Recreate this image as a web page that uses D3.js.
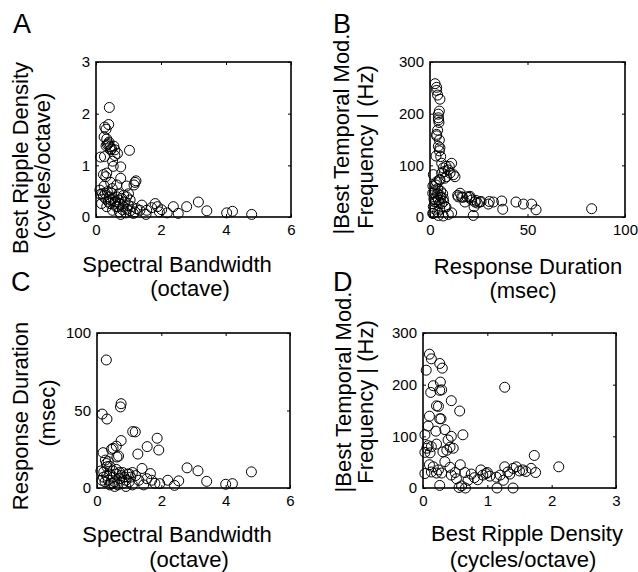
<!DOCTYPE html>
<html>
<head>
<meta charset="utf-8">
<script src="https://cdn.jsdelivr.net/npm/d3@7"></script>
<style>
  body { margin: 0; background: #fff; }
  svg { font-family: "Liberation Sans", Arial, sans-serif; }
</style>
</head>
<body>
<svg id="chart"></svg>
<script>
// [spectral bandwidth (octave), best ripple density (cycles/octave)]
let rippleVsBandwidth = [
  [0.41,2.12],[0.39,1.79],[0.27,1.74],[0.31,1.70],[0.25,1.55],[0.33,1.51],[0.38,1.42],[0.31,1.38],
  [0.43,1.36],[0.48,1.32],[0.55,1.37],[0.58,1.30],[0.66,1.23],[0.58,1.19],[1.03,1.29],[0.14,1.16],
  [0.26,1.17],[0.51,1.08],[0.53,0.98],[0.76,0.97],[0.23,0.82],[0.33,0.85],[0.30,0.78],[0.76,0.75],
  [0.45,0.67],[0.64,0.62],[0.94,0.60],[1.20,0.67],[1.23,0.70],[1.17,0.62],[0.12,0.52],[0.14,0.44],
  [0.23,0.40],[0.28,0.46],[0.35,0.49],[0.41,0.39],[0.48,0.46],[0.53,0.36],[0.58,0.29],[0.64,0.39],
  [0.69,0.33],[0.74,0.25],[0.79,0.36],[0.84,0.20],[0.89,0.29],[0.94,0.39],[0.99,0.23],[1.05,0.33],
  [1.10,0.20],[0.17,0.26],[0.33,0.20],[0.43,0.26],[0.51,0.13],[0.62,0.20],[0.72,0.10],[0.76,0.05],
  [0.82,0.14],[0.92,0.08],[1.05,0.12],[1.15,0.07],[1.25,0.16],[1.20,0.10],[1.41,0.23],[1.35,0.13],
  [1.54,0.05],[1.56,0.13],[1.71,0.18],[1.82,0.26],[1.89,0.20],[1.95,0.10],[2.02,0.14],[2.19,0.08],
  [2.38,0.20],[2.53,0.07],[2.79,0.20],[3.15,0.29],[3.41,0.12],[4.02,0.08],[4.20,0.11],[4.79,0.05],
  [0.35,1.40],[0.40,1.45],[0.45,1.30],[0.20,0.45],[0.30,0.35],[0.38,0.30],[0.45,0.33],[0.55,0.25],
  [0.60,0.30],[0.68,0.20],[0.25,0.60],[0.70,0.45],[0.85,0.42],[1.00,0.45],[0.95,0.15],[0.50,0.55]
];

// [response duration (msec), |best temporal mod. frequency| (Hz)]
let tmfVsDuration = [
  [2.6,258],[3.4,251],[3.4,245],[3.9,236],[5.1,228],[4.8,205],[4.3,199],[4.3,192],[4.4,188],[4.6,183],
  [3.9,168],[3.4,160],[3.4,157],[4.8,149],[4.3,137],[5.1,134],[4.8,128],[5.5,117],[3.1,118],[6.0,104],
  [11.1,104],[6.8,95],[8.2,98],[9.9,98],[9.4,91],[10.3,85],[12.0,82],[12.8,78],[8.5,78],[7.4,88],
  [5.1,72],[1.7,82],[4.8,72],[3.4,68],[2.6,52],[1.4,46],[2.2,47],[3.9,45],[3.4,39],[5.1,42],
  [5.6,38],[4.3,33],[2.6,29],[6.0,26],[6.8,36],[4.8,26],[7.7,20],[8.2,19],[1.7,20],[3.9,10],
  [1.4,7],[1.7,7],[4.3,3],[6.8,2],[9.4,5],[11.1,8],[14.2,42],[15.4,46],[14.5,39],[16.2,39],
  [16.8,38],[17.9,29],[18.8,39],[20.2,38],[20.5,40],[21.4,33],[23.1,29],[23.6,32],[24.3,27],[25.6,29],
  [26.2,30],[22.6,20],[22.2,3],[29.9,25],[30.4,30],[32.5,29],[36.8,31],[37.3,15],[44.1,29],[47.9,25],
  [52.1,25],[54.4,14],[82.9,16],
  [2.0,35],[3.0,30],[4.0,55],[5.5,50],[6.5,45],[7.0,30],[2.5,15],[5.0,15],[3.0,62],[6.0,85],[7.5,75],[1.5,60]
];

// [spectral bandwidth (octave), response duration (msec)]
let durationVsBandwidth = [
  [0.29,82.6],[0.16,47.7],[0.31,44.5],[0.75,54.4],[0.73,52.3],[1.11,36.4],[1.19,36.2],[0.75,30.6],
  [1.87,32.1],[1.56,26.7],[1.92,24.5],[1.27,21.9],[1.40,12.6],[0.19,22.8],[0.45,25.0],[0.50,25.6],
  [0.60,27.0],[0.67,20.6],[0.62,20.0],[0.26,18.0],[0.29,15.8],[0.31,13.7],[0.35,17.0],[0.40,14.0],
  [0.21,10.4],[0.15,5.0],[2.80,13.0],[3.14,11.1],[3.41,4.3],[4.80,10.4],[4.00,2.4],[4.21,2.8],
  [2.20,5.0],[2.41,1.7],[2.54,4.6],[1.95,2.8],[1.70,5.0],[1.66,9.3],[1.80,3.0],[1.20,8.0],[1.30,5.0],
  [0.30,8],[0.35,5],[0.40,9],[0.45,3],[0.50,7],[0.55,4],[0.60,9],[0.65,2],[0.70,6],[0.75,8],
  [0.80,3],[0.85,7],[0.90,5],[0.95,9],[1.00,4],[1.05,7],[1.10,2],[0.25,4],[0.20,7],[0.50,11],
  [0.60,12],[0.70,10],[0.80,10],[1.00,9],[1.10,10],[0.40,2],[0.55,1],[0.90,1],[1.45,2],[1.55,6],
  [0.12,11],[0.50,3]
];

// [best ripple density (cycles/octave), |best temporal mod. frequency| (Hz)]
let tmfVsRipple = [
  [0.10,259],[0.13,250],[0.05,228],[0.26,241],[0.30,232],[0.16,198],[0.12,185],[0.27,205],[0.29,190],
  [0.26,189],[0.44,169],[0.57,149],[0.21,159],[0.24,158],[0.10,139],[0.26,134],[0.28,134],[0.34,113],
  [0.08,120],[0.03,103],[0.20,110],[0.62,103],[0.44,100],[0.39,93],[0.08,82],[0.06,77],[0.13,80],
  [0.21,85],[0.42,79],[0.47,77],[0.37,73],[0.03,69],[0.11,68],[0.31,70],[1.73,63],[1.27,195],
  [0.10,45],[0.16,41],[0.24,35],[0.29,29],[0.21,29],[0.13,31],[0.42,40],[0.34,51],[0.58,45],
  [0.03,28],[0.26,5],[0.44,25],[0.52,18],[0.60,4],[0.66,0],[0.56,1],[0.75,27],[0.80,20],
  [0.85,16],[0.93,25],[0.98,28],[1.04,23],[1.14,21],[1.15,0],[1.40,0],[1.27,41],[1.32,31],
  [1.40,38],[1.45,41],[1.55,35],[1.68,38],[1.75,30],[2.11,41],
  [0.70,15],[0.90,35],[1.00,30],[1.20,25],[1.25,15],[1.35,27],[1.50,33],[1.60,32],[0.65,30],[0.50,30]
];

let bandwidthTicks = [0, 2, 4, 6];
let rippleTicks = [0, 1, 2, 3];
let durationTicksX = [0, 50, 100];
let durationTicksY = [0, 50, 100];
let tmfTicks = [0, 100, 200, 300];

let width = 638;
let height = 572;

let svg = d3.select("#chart").attr("width", width).attr("height", height);
svg.append("rect").attr("width", width).attr("height", height).attr("fill", "#fff");

let panels = [
  {
    letter: "A", letterPos: [13, 33], box: [96, 62, 291, 217],
    data: rippleVsBandwidth, xDomain: [0, 6], yDomain: [0, 3],
    xTicks: bandwidthTicks, yTicks: rippleTicks,
    xLabel: [["Spectral Bandwidth", 177, 272], ["(octave)", 190, 296]],
    yLabel: [["Best Ripple Density", 28, 158], ["(cycles/octave)", 50, 166]]
  },
  {
    letter: "B", letterPos: [333, 33], box: [430, 62, 625, 217],
    data: tmfVsDuration, xDomain: [0, 100], yDomain: [0, 300],
    xTicks: durationTicksX, yTicks: tmfTicks,
    xLabel: [["Response Duration", 528, 274], ["(msec)", 523, 298]],
    yLabel: [["|Best Temporal Mod.", 349, 134], ["Frequency | (Hz)", 373, 147]]
  },
  {
    letter: "C", letterPos: [11, 291], box: [97, 333, 290, 488],
    data: durationVsBandwidth, xDomain: [0, 6], yDomain: [0, 100],
    xTicks: bandwidthTicks, yTicks: durationTicksY,
    xLabel: [["Spectral Bandwidth", 177, 542], ["(octave)", 189, 567]],
    yLabel: [["Response Duration", 28, 416], ["(msec)", 55, 413]]
  },
  {
    letter: "D", letterPos: [333, 291], box: [423, 333, 616, 488],
    data: tmfVsRipple, xDomain: [0, 3], yDomain: [0, 300],
    xTicks: rippleTicks, yTicks: tmfTicks,
    xLabel: [["Best Ripple Density", 527, 541], ["(cycles/octave)", 523, 567]],
    yLabel: [["|Best Temporal Mod.", 351, 392], ["Frequency | (Hz)", 373, 402]]
  }
];

let drawPanel = (p) => {
  let [x0, y0, x1, y1] = p.box;
  let xScale = d3.scaleLinear().domain(p.xDomain).range([x0, x1]);
  let yScale = d3.scaleLinear().domain(p.yDomain).range([y1, y0]);

  let g = svg.append("g").attr("class", "panel");

  // points
  g.append("g")
    .selectAll("circle")
    .data(p.data)
    .enter()
    .append("circle")
    .attr("cx", (d) => xScale(d[0]))
    .attr("cy", (d) => yScale(d[1]))
    .attr("r", 5)
    .attr("fill", "none")
    .attr("stroke", "#000")
    .attr("stroke-width", 1);

  // axes, ticks pointing inward
  let styleAxis = (sel) => {
    sel.select(".domain").remove();
    sel.selectAll(".tick line").attr("stroke", "#000").attr("stroke-width", 1);
    sel.selectAll("text").attr("fill", "#000").style("font-size", "15px");
  };

  g.append("g")
    .attr("transform", "translate(0," + y1 + ")")
    .call(d3.axisBottom(xScale).tickValues(p.xTicks).tickSizeInner(-3).tickSizeOuter(0).tickPadding(7).tickFormat(d3.format("d")))
    .call(styleAxis);

  g.append("g")
    .attr("transform", "translate(" + x0 + ",0)")
    .call(d3.axisLeft(yScale).tickValues(p.yTicks).tickSizeInner(-3).tickSizeOuter(0).tickPadding(6).tickFormat(d3.format("d")))
    .call(styleAxis);

  g.append("g")
    .attr("transform", "translate(0," + y0 + ")")
    .call(d3.axisTop(xScale).tickValues(p.xTicks).tickSizeInner(-3).tickSizeOuter(0).tickFormat(""))
    .call(styleAxis);

  g.append("g")
    .attr("transform", "translate(" + x1 + ",0)")
    .call(d3.axisRight(yScale).tickValues(p.yTicks).tickSizeInner(-3).tickSizeOuter(0).tickFormat(""))
    .call(styleAxis);

  // box
  g.append("rect")
    .attr("x", x0)
    .attr("y", y0)
    .attr("width", x1 - x0)
    .attr("height", y1 - y0)
    .attr("fill", "none")
    .attr("stroke", "#000")
    .attr("stroke-width", 1.6);

  // labels
  p.xLabel.forEach((l) => {
    g.append("text")
      .attr("x", l[1])
      .attr("y", l[2])
      .attr("text-anchor", "middle")
      .style("font-size", "22px")
      .text(l[0]);
  });

  p.yLabel.forEach((l) => {
    g.append("text")
      .attr("transform", "translate(" + l[1] + "," + l[2] + ") rotate(-90)")
      .attr("text-anchor", "middle")
      .style("font-size", "22px")
      .text(l[0]);
  });

  g.append("text")
    .attr("x", p.letterPos[0])
    .attr("y", p.letterPos[1])
    .style("font-size", "27px")
    .text(p.letter);
};

panels.forEach(drawPanel);
</script>
</body>
</html>
